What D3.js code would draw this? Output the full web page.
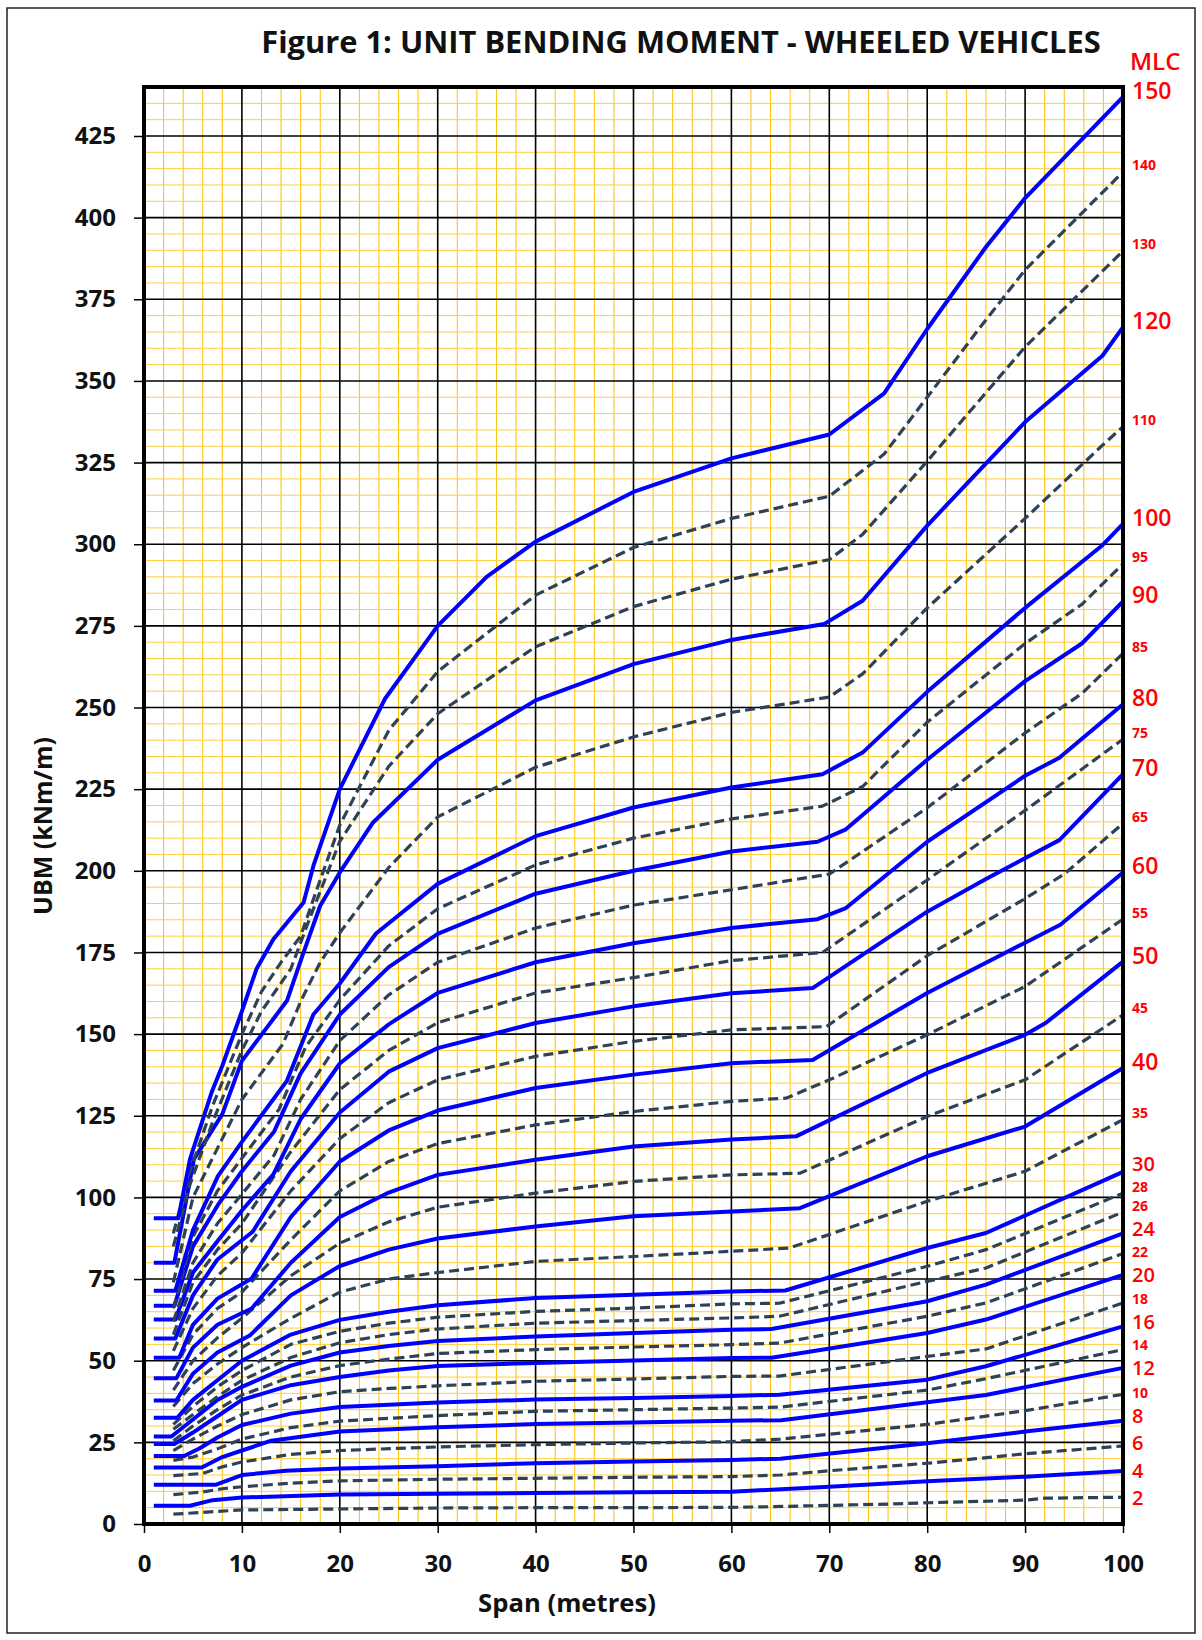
<!DOCTYPE html>
<html>
<head>
<meta charset="utf-8">
<script src="https://cdn.jsdelivr.net/npm/d3@7"></script>
<style>
body { margin: 0; background: #fff; }
svg { display: block; }
text { font-family: "Open Sans", "Liberation Sans", sans-serif; }
</style>
</head>
<body>
<svg id="chart" width="1202" height="1640"></svg>
<script>
// MLC classes, bottom to top
var mlcClasses = [2, 4, 6, 8, 10, 12, 14, 16, 18, 20, 22, 24, 26, 28, 30, 35, 40, 45, 50, 55, 60, 65, 70, 75, 80, 85, 90, 95, 100, 110, 120, 130, 140, 150];
var dashedClasses = [2, 6, 10, 14, 18, 22, 26, 28, 35, 45, 55, 65, 75, 85, 95, 110, 130, 140];
var smallLabels = [10, 14, 18, 22, 26, 28, 35, 45, 55, 65, 75, 85, 95, 110, 130, 140];

var xTicks = [0, 10, 20, 30, 40, 50, 60, 70, 80, 90, 100];
var yTicks = [0, 25, 50, 75, 100, 125, 150, 175, 200, 225, 250, 275, 300, 325, 350, 375, 400, 425];

// [span (m), UBM (kNm/m)]
var mlc2 = [[3,3],[7.2,3.8],[10,4.3],[20,4.6],[30,4.9],[40,5],[50,5],[60,5.1],[64,5.3],[76,6.1],[80,6.5],[90,7.3],[92,7.9],[100,8.2]];
var mlc4 = [[1,5.6],[4.7,5.6],[7,7.3],[10,8.1],[20,9],[30,9.3],[40,9.5],[50,9.7],[60,9.9],[70,11.4],[80,13.1],[90,14.5],[100,16.2]];
var mlc6 = [[3,9],[6,9.8],[8,10.8],[10,11.4],[15,12.5],[20,13.2],[30,13.7],[40,14],[50,14.3],[60,14.5],[65,15],[70,16.3],[80,18.6],[85,20],[90,21.5],[100,23.9]];
var mlc8 = [[1,12],[7.3,12],[10,15],[14.5,16.3],[20,17],[30,17.7],[40,18.6],[50,19.1],[60,19.6],[65,20],[80,24.7],[90,28.3],[100,31.6]];
var mlc10 = [[3,14.8],[6,15.5],[8,17.5],[10,19],[15,21.3],[20,22.5],[30,23.6],[40,24.3],[50,24.8],[60,25.2],[65,26],[80,30.5],[90,34.7],[100,39.7]];
var mlc12 = [[1,17.3],[5.9,17.3],[8,20.5],[10,22.5],[13,25.5],[20,28.3],[30,29.6],[40,30.6],[50,31.1],[60,31.6],[65.1,31.8],[86,39.5],[100,47.8]];
var mlc14 = [[3,19.5],[5,20.5],[7.5,23],[10,26],[15,29.5],[20,31.5],[30,33.2],[40,34.5],[50,35],[60,35.5],[65,35.8],[80,41],[86,44.5],[100,53.4]];
var mlc16 = [[1,20.8],[4.1,20.8],[5.7,23.2],[7.5,26.5],[10,30.3],[15,33.8],[20,35.8],[25,36.5],[30,37.2],[40,38.1],[50,38.6],[60,39.2],[64.9,39.6],[80,44.2],[86,48.3],[100,60.5]];
var mlc18 = [[3,22.5],[5,26],[7.5,30],[10,33.5],[15,38],[20,40.5],[25,41.5],[30,42.3],[40,43.7],[50,44.4],[60,45.2],[64.9,45.3],[80,51.3],[86,53.6],[100,67.7]];
var mlc20 = [[1,24.5],[3.1,24.5],[5,28],[7.5,33],[10,38],[15,42.5],[20,45],[25,47],[30,48.4],[40,49.3],[50,50.1],[60,50.8],[64.1,50.9],[80,58.5],[86,62.6],[100,76.3]];
var mlc22 = [[3,25.5],[5,30],[7.5,35],[10,39.5],[15,45],[20,48.5],[25,50.5],[30,52.2],[40,53.4],[50,54.2],[60,54.9],[64.9,55.4],[80,63.6],[86,67.7],[100,82.8]];
var mlc24 = [[1,26.8],[2.8,26.8],[5,32],[7.5,38],[10,42],[15,48.5],[20,52.5],[25,54.5],[30,56],[40,57.4],[50,58.5],[60,59.5],[64.1,59.7],[80,68.2],[86,73.3],[100,89]];
var mlc26 = [[3,29],[5,33.5],[7.5,39],[10,44],[15,51],[20,55.5],[25,58],[30,59.7],[40,61.5],[50,62.3],[60,63.1],[64.9,63.6],[80,74.3],[86,78.4],[100,95.5]];
var mlc28 = [[3,30.5],[5,36],[7.5,42],[10,47],[15,55],[20,59],[25,61.5],[30,63.3],[40,65.1],[50,66.1],[60,67.4],[64.9,67.6],[80,78.9],[86,84],[100,101.3]];
var mlc30 = [[1,32.5],[3.4,32.5],[5,38],[7.5,44],[10,50],[15,58],[20,62.5],[25,65],[30,67],[40,69.2],[50,70.2],[60,71.2],[65.5,71.5],[80,84.5],[86,89.1],[100,107.8]];
var mlc35 = [[3,36],[5,43],[7.5,49],[10,54],[15,63],[20,71],[25,75],[30,77],[40,80.4],[50,81.9],[60,83.5],[65.9,84.5],[80,98.8],[90,108],[100,123.8]];
var mlc40 = [[1,37.8],[3.3,37.8],[5,46],[7.5,52.5],[10.8,57.7],[15,70],[20,79],[25,84],[30,87.4],[40,91.1],[50,94.2],[60,95.7],[67,96.7],[80,112.6],[90,121.7],[100,139.6]];
var mlc45 = [[3,41],[5,50],[7.5,57],[10,63],[15,76],[20,86],[25,92.5],[30,97],[40,101.3],[50,104.9],[60,106.9],[67,107.4],[80,124.8],[90,136],[100,155.9]];
var mlc50 = [[1,44.6],[3.3,44.6],[5,54],[7.5,61],[11,66],[15,80],[20,94],[25,101.5],[30,106.9],[40,111.5],[50,115.6],[60,117.7],[66.6,118.7],[80,138.1],[90,149.8],[92.1,153.4],[100,172.2]];
var mlc55 = [[3,47],[5,58],[7.5,66],[10,71],[15,87],[20,102],[25,111],[30,116.5],[40,122.2],[50,126.3],[60,129.4],[65.6,130.4],[70,136],[80,149.8],[90,164.6],[100,185.2]];
var mlc60 = [[1,50.9],[3.6,50.9],[5,61],[7.5,69],[11,75.2],[15,94],[20,111],[25,120.5],[30,126.6],[40,133.5],[50,137.6],[60,141.1],[68.3,142.1],[80,162.6],[90,178],[93.6,183.5],[100,199.5]];
var mlc65 = [[3,53],[5,66],[7.5,76],[10,83],[15,102],[20,118],[25,129],[30,136],[40,143.2],[50,147.8],[60,151.3],[69.7,152.3],[80,174],[90,191.5],[94,199],[100,214.5]];
var mlc70 = [[1,56.8],[3.2,56.8],[5,70],[7.5,81],[11.1,89.5],[15,108],[20,126],[25,138.5],[30,145.7],[40,153.4],[50,158.5],[60,162.5],[68.3,164.1],[80,187.5],[86,197.5],[93.5,209.4],[100,229.6]];
var mlc75 = [[3,58],[5,74],[7.5,84],[10,92],[15,114],[20,133],[25,145],[30,153.5],[40,162.6],[50,167.3],[60,172.5],[69.3,175],[80,197.2],[90,218.5],[100,240.3]];
var mlc80 = [[1,62.6],[3.2,62.6],[5,77],[7.4,86.2],[10,96],[13.2,107],[16,124],[20,141],[25,153],[30,162.6],[40,172],[50,177.8],[60,182.5],[68.8,185.2],[71.7,188.6],[80,208.9],[90,229.1],[93.5,234.6],[100,251]];
var mlc85 = [[3,62],[5,80],[7.5,92],[10,101],[13.3,113],[16,130],[20,148],[25,162],[30,172],[40,182.5],[50,189.5],[60,194.2],[70,199],[80,219.3],[90,242.2],[95.8,254.3],[100,266.6]];
var mlc90 = [[1,66.8],[3.1,66.8],[5,85],[7.55,97.7],[10,108],[13.3,120.2],[16,138],[20,156],[25,170.5],[30,180.7],[40,193],[50,200],[60,205.9],[68.8,208.9],[71.7,212.7],[80,234],[90,258.1],[95.8,269.6],[100,282.5]];
var mlc95 = [[3,66],[5,88],[7.5,102],[10,112],[13.8,127],[16.5,146],[20,160.5],[25,177],[30,188.4],[40,201.8],[50,210],[60,215.9],[69.3,219.8],[73.4,225.8],[80,245.5],[90,269.6],[95.8,281.6],[100,294]];
var mlc100 = [[1,71.4],[3.2,71.4],[5,90],[7.55,106.5],[10,117],[14.6,135.7],[17.3,156],[20,165.5],[23.7,180.8],[30,196],[40,210.6],[50,219.4],[60,225.5],[69.3,229.6],[73.4,236.2],[80,254.8],[90,280.5],[97.9,299.7],[100,306.2]];
var mlc110 = [[3,74],[5,100],[8,118],[10,130],[14.2,147],[16,160],[18,172],[20,181],[25,201],[30,216.5],[40,231.7],[50,241],[60,248.5],[70,253.2],[73.4,260.3],[80,280.5],[90,307.9],[97.9,330.3],[100,336]];
var mlc120 = [[1,80],[3.1,80],[5.1,111.7],[8,125.5],[10,141.8],[14.6,160.2],[16.3,175],[18,189.3],[20,199.5],[23.4,214.8],[30,234],[40,252.2],[50,263.3],[60,270.7],[69.5,275.6],[73.4,282.7],[80,305.7],[90,337.4],[97.9,357.7],[100,366.5]];
var mlc130 = [[3,85],[4.7,104],[7,123],[10,145],[12,157],[15,170],[17,186],[20,209],[25,232],[30,248.1],[40,268.6],[50,280.9],[60,289.3],[70,295.3],[73.4,303],[80,325.4],[90,360.4],[100,389.8]];
var mlc140 = [[3,89],[4.7,108],[7,128],[10,150],[12,163],[14,172],[16,180],[17.5,193],[20,214],[25,243],[30,261],[40,284.4],[50,299],[60,307.9],[70,314.7],[75.6,327.6],[80,345],[85.3,366],[90,384],[100,414]];
var mlc150 = [[1,93.6],[3.5,93.6],[4.7,111.7],[6.9,132.1],[8,140.3],[10,157],[11.5,170],[13.2,179],[16.3,190.3],[17.3,201.5],[20,225],[24.6,252.6],[30,275],[35,290],[40,300.8],[50,316],[60,326.3],[70,333.6],[75.6,346.2],[80,365.9],[86,391],[90,406],[100,437]];

var seriesByClass = {
	2: mlc2, 4: mlc4, 6: mlc6, 8: mlc8, 10: mlc10, 12: mlc12, 14: mlc14, 16: mlc16, 18: mlc18,
	20: mlc20, 22: mlc22, 24: mlc24, 26: mlc26, 28: mlc28, 30: mlc30, 35: mlc35, 40: mlc40,
	45: mlc45, 50: mlc50, 55: mlc55, 60: mlc60, 65: mlc65, 70: mlc70, 75: mlc75, 80: mlc80,
	85: mlc85, 90: mlc90, 95: mlc95, 100: mlc100, 110: mlc110, 120: mlc120, 130: mlc130,
	140: mlc140, 150: mlc150
};

var svg = d3.select('#chart');

var x = d3.scaleLinear().domain([0, 100]).range([144, 1123]);
var y = d3.scaleLinear().domain([0, 440]).range([1524, 87]);

// outer border
svg.append('rect')
	.attr('x', 7).attr('y', 8)
	.attr('width', 1188).attr('height', 1625)
	.style('fill', 'none')
	.style('stroke', '#222')
	.style('stroke-width', 1.5);

// fit a text element to a given width
var fitText = function(sel, width, size) {
	var len = sel.node().getComputedTextLength();
	sel.style('font-size', (size * width / len) + 'px');
};

var title = svg.append('text')
	.attr('x', 681).attr('y', 53)
	.attr('text-anchor', 'middle')
	.style('font-weight', 'bold')
	.style('font-size', '30px')
	.style('fill', '#111')
	.text('Figure 1: UNIT BENDING MOMENT - WHEELED VEHICLES');
fitText(title, 840, 30);

// grid
var grid = svg.append('g').attr('class', 'grid');

grid.selectAll('line.minorx')
	.data(d3.range(0, 101, 2).filter(function(d) { return d % 10 !== 0; }))
	.enter().append('line')
	.attr('x1', function(d) { return x(d); }).attr('x2', function(d) { return x(d); })
	.attr('y1', y(0)).attr('y2', y(440))
	.style('stroke', '#FFC000')
	.style('stroke-width', 1);

grid.selectAll('line.minory')
	.data(d3.range(0, 441, 5).filter(function(d) { return d % 25 !== 0; }))
	.enter().append('line')
	.attr('y1', function(d) { return y(d); }).attr('y2', function(d) { return y(d); })
	.attr('x1', x(0)).attr('x2', x(100))
	.style('stroke', '#FFCF3A')
	.style('stroke-width', 1);

grid.selectAll('line.majorx')
	.data(xTicks.slice(1, -1))
	.enter().append('line')
	.attr('x1', function(d) { return x(d); }).attr('x2', function(d) { return x(d); })
	.attr('y1', y(0)).attr('y2', y(440))
	.style('stroke', '#000')
	.style('stroke-width', 1.6);

grid.selectAll('line.majory')
	.data(yTicks.slice(1))
	.enter().append('line')
	.attr('y1', function(d) { return y(d); }).attr('y2', function(d) { return y(d); })
	.attr('x1', x(0)).attr('x2', x(100))
	.style('stroke', '#000')
	.style('stroke-width', 1.6);

// curves
var line = d3.line()
	.x(function(d) { return x(d[0]); })
	.y(function(d) { return y(d[1]); });

var curves = svg.append('g').attr('class', 'curves');

mlcClasses.forEach(function(m) {
	var dashed = dashedClasses.indexOf(m) >= 0;
	curves.append('path')
		.datum(seriesByClass[m])
		.attr('d', line)
		.style('fill', 'none')
		.style('stroke', dashed ? '#2E4257' : '#0000FF')
		.style('stroke-width', dashed ? 3.2 : 4)
		.style('stroke-dasharray', dashed ? '10,5' : null)
		.style('stroke-linejoin', 'round');
});

// frame
svg.append('rect')
	.attr('x', x(0)).attr('y', y(440))
	.attr('width', x(100) - x(0)).attr('height', y(0) - y(440))
	.style('fill', 'none')
	.style('stroke', '#000')
	.style('stroke-width', 4);

// axes
var yAxis = svg.append('g')
	.attr('transform', 'translate(' + x(0) + ',0)')
	.call(d3.axisLeft(y).tickValues(yTicks).tickSize(10).tickPadding(18));

var xAxis = svg.append('g')
	.attr('transform', 'translate(0,' + y(0) + ')')
	.call(d3.axisBottom(x).tickValues(xTicks).tickSize(9).tickPadding(22));

[yAxis, xAxis].forEach(function(ax) {
	ax.select('.domain').remove();
	ax.selectAll('.tick line').style('stroke', '#000').style('stroke-width', 1.5);
	ax.selectAll('.tick text')
		.style('font-family', '"Open Sans", sans-serif')
		.style('font-weight', 'bold')
		.style('font-size', '24px')
		.style('fill', '#111');
});

var yLabel = svg.append('text')
	.attr('transform', 'translate(52,826) rotate(-90)')
	.attr('text-anchor', 'middle')
	.style('font-weight', 'bold')
	.style('font-size', '22px')
	.style('fill', '#111')
	.text('UBM (kNm/m)');
fitText(yLabel, 178, 22);

var xLabel = svg.append('text')
	.attr('x', 567).attr('y', 1612)
	.attr('text-anchor', 'middle')
	.style('font-weight', 'bold')
	.style('font-size', '22px')
	.style('fill', '#111')
	.text('Span (metres)');
fitText(xLabel, 178, 22);

// MLC labels at the right
svg.append('text')
	.attr('x', 1130).attr('y', 70)
	.style('font-size', '24px')
	.style('font-weight', 600)
	.style('fill', '#FF0000')
	.text('MLC');

var labelSize = function(m) {
	if (smallLabels.indexOf(m) >= 0) return 14;
	return m <= 30 ? 20 : 23;
};

// label y: at the curve end, pushed up so neighbours never collide
var labelY = {};
var prevY = Infinity, prevSize = 0;
mlcClasses.forEach(function(m) {
	var pts = seriesByClass[m];
	var size = labelSize(m);
	var ly = y(pts[pts.length - 1][1]) - (m >= 35 ? 7 : 0);
	var gap = 0.68 * (size + prevSize);
	if (prevY - ly < gap) ly = prevY - gap;
	labelY[m] = ly;
	prevY = ly;
	prevSize = size;
});

svg.append('g').selectAll('text')
	.data(mlcClasses)
	.enter().append('text')
	.attr('x', 1132)
	.attr('y', function(m) { return labelY[m]; })
	.attr('dominant-baseline', 'central')
	.style('font-size', function(m) { return labelSize(m) + 'px'; })
	.style('font-weight', function(m) { return smallLabels.indexOf(m) >= 0 ? 'bold' : 600; })
	.style('fill', '#FF0000')
	.text(function(m) { return m; });
</script>
</body>
</html>
